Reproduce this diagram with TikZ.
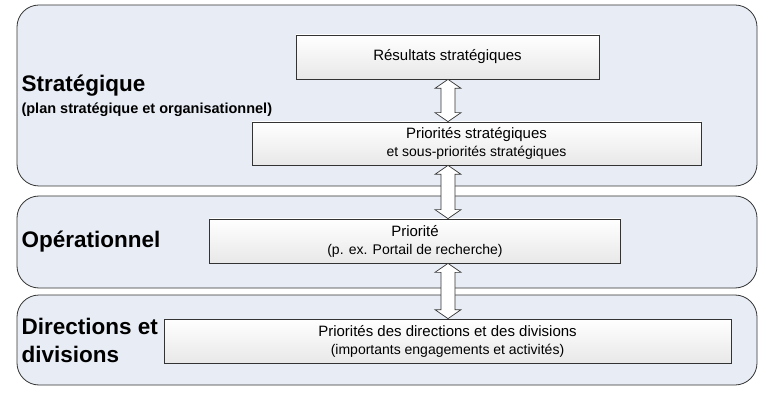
\documentclass[tikz,border=0pt]{standalone}
\usepackage{fontspec}
\setmainfont{Liberation Sans}
\usetikzlibrary{calc}
\definecolor{panelfill}{HTML}{E8EDF5}
\tikzset{
  panel/.style={draw=black!80, line width=0.8pt, rounded corners=22pt, fill=panelfill},
  box/.style={draw=black!80, line width=0.7pt, top color=white, bottom color=black!9, align=center, font=\fontsize{15}{18}\selectfont},
  darr/.style={draw=black!80, fill=white, line width=0.7pt, line join=miter},
  head/.style={anchor=west, font=\bfseries\fontsize{22.5}{28}\selectfont, align=left},
}
\newcommand\mydarrow[2]{%
  \path[darr] let \p1=(#1), \p2=(#2) in
    (\x1,\y1) -- (\x1+13,\y1-9) -- (\x1+7,\y1-9) -- (\x1+7,\y2+9) -- (\x1+13,\y2+9)
    -- (\x1,\y2) -- (\x1-13,\y2+9) -- (\x1-7,\y2+9) -- (\x1-7,\y1-9) -- (\x1-13,\y1-9) -- cycle;}
\begin{document}
\begin{tikzpicture}[x=1pt,y=-1pt]
\useasboundingbox (0,0) rectangle (770,403);
\path[panel] (17,5) rectangle (757,186);
\path[panel] (17,196) rectangle (757,288);
\path[panel] (17,295) rectangle (757,385);
\node[box, minimum width=303pt, minimum height=44pt] (r) at (447.5,57) {Résultats stratégiques};
\node[box, minimum width=449pt, minimum height=43pt] (p) at (476.5,143.5) {Priorités stratégiques\\\fontsize{14}{17}\selectfont et sous-priorités stratégiques};
\node[box, minimum width=411pt, minimum height=44pt] (o) at (415,241) {Priorité\\\fontsize{14}{17}\selectfont (p. ex. Portail de recherche)};
\node[box, minimum width=567pt, minimum height=44pt] (d) at (447.5,341) {Priorités des directions et des divisions\\\fontsize{14}{17}\selectfont (importants engagements et activités)};
\coordinate (c1) at ($(r.south)+(0.5,0)$);
\coordinate (c2) at ($(p.north)+(-28.5,0)$);
\coordinate (c3) at ($(p.south)+(-28.5,0)$);
\coordinate (c4) at ($(o.north)+(33,0)$);
\coordinate (c5) at ($(o.south)+(33,0)$);
\coordinate (c6) at ($(d.north)+(0.5,0)$);
\mydarrow{c1}{c2}
\mydarrow{c3}{c4}
\mydarrow{c5}{c6}
\node[head] (h1) at (18,86) {Stratégique};
\node[anchor=west, font=\bfseries\fontsize{14.5}{17}\selectfont] (h1b) at (18,110) {(plan stratégique et organisationnel)};
\node[head] (h2) at (18,242) {Opérationnel};
\node[head] (h3) at (18,340) {Directions et\\divisions};
\end{tikzpicture}
\end{document}
